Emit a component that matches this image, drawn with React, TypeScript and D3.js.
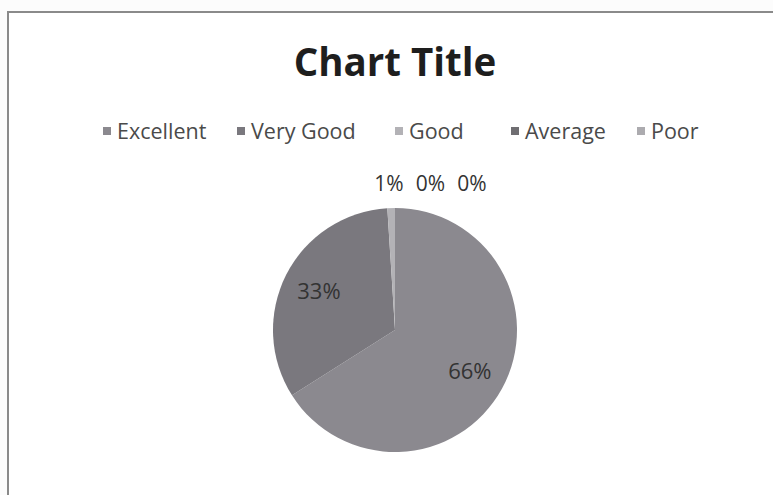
import { useMemo } from "react";
import * as d3 from "d3";

const categories = ["Excellent", "Very Good", "Good", "Average", "Poor"];
const values = [66, 33, 1, 0, 0];
const colors = ["#8b898f", "#7a787e", "#b3b2b6", "#6f6e72", "#acabaf"];

const W = 773;
const H = 495;
const cx = 395;
const cy = 330;
const R = 122;

const App = () => {
  const total = d3.sum(values);
  const arcs = useMemo(
    () =>
      d3
        .pie<number>()
        .sort(null)
        .value((d) => d)(values),
    []
  );

  const arc = d3.arc<d3.PieArcDatum<number>>().innerRadius(0).outerRadius(R);
  const labelArc = d3
    .arc<d3.PieArcDatum<number>>()
    .innerRadius(R * 0.7)
    .outerRadius(R * 0.7);

  const pct = (v: number) => `${Math.round((v / total) * 100)}%`;

  // small slices get their labels lined up above the pie, like Excel's best fit
  const small = arcs.filter((a) => a.value / total < 0.05);
  const smallX = d3
    .scalePoint<number>()
    .domain(small.map((a) => a.index))
    .range([cx - 6, cx + 77]);

  // legend text start positions
  const legendX = [117, 251, 409, 525, 651];

  return (
    <svg
      width={W}
      height={H}
      style={{ position: "absolute", left: 0, top: 0, background: "#fcfcfc" }}
      fontFamily="'Open Sans', sans-serif"
    >
      <rect x={8} y={12} width={W} height={H} fill="#fff" stroke="#8a8a8a" strokeWidth={2} />
      <text x={cx} y={76} textAnchor="middle" fontSize={38.5} fontWeight="bold" fill="#1e1e1e">
        Chart Title
      </text>

      <g>
        {categories.map((c, i) => (
          <g key={c} transform={`translate(${legendX[i]},131)`}>
            <rect x={-14} y={-4} width={8} height={8} fill={colors[i]} />
            <text x={0} y={0} dy="0.35em" fontSize={21.5} fill="#4a4a4a">
              {c}
            </text>
          </g>
        ))}
      </g>

      <g transform={`translate(${cx},${cy})`}>
        {arcs.map((a) => (
          <path key={a.index} d={arc(a) || ""} fill={colors[a.index]} />
        ))}
        {arcs
          .filter((a) => a.value / total >= 0.05)
          .map((a) => {
            const [x, y] = labelArc.centroid(a);
            return (
              <text
                key={a.index}
                x={x}
                y={y}
                dy="0.35em"
                textAnchor="middle"
                fontSize={22}
                fill="#333"
              >
                {pct(a.value)}
              </text>
            );
          })}
      </g>

      {small.map((a) => (
        <text
          key={a.index}
          x={smallX(a.index)}
          y={cy - R - 24}
          dy="0.35em"
          textAnchor="middle"
          fontSize={21}
          fill="#333"
        >
          {pct(a.value)}
        </text>
      ))}
    </svg>
  );
};

export default App;
